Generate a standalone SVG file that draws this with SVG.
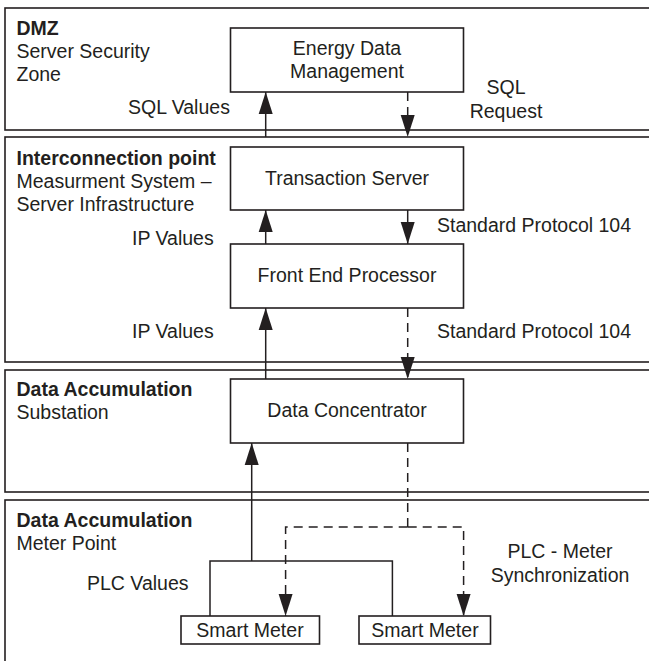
<svg xmlns="http://www.w3.org/2000/svg" width="649" height="661" viewBox="0 0 649 661">
<style>
text{font-family:"Liberation Sans",Arial,sans-serif;font-size:19.5px;fill:#231f20}
.b{font-weight:bold}
.m{text-anchor:middle}
.zone{fill:none;stroke:#231f20;stroke-width:1.6}
.box{fill:#fff;stroke:#231f20;stroke-width:1.6}
.c{fill:none;stroke:#231f20;stroke-width:1.5}
.d{stroke-dasharray:9,6}
</style>
<defs>
<marker id="ah" markerUnits="userSpaceOnUse" markerWidth="23" markerHeight="15" refX="22" refY="7" orient="auto" overflow="visible">
<path d="M0,0 L22,7 L0,14 z" fill="#231f20" stroke="none"/>
</marker>
</defs>
<g id="zone-dmz">
<rect class="zone" x="5" y="8" width="660" height="122"/>
<text class="b" x="16.5" y="35">DMZ</text>
<text x="16.5" y="58">Server Security</text>
<text x="16.5" y="81">Zone</text>
</g>
<g id="zone-interconnection">
<rect class="zone" x="5" y="137" width="660" height="225"/>
<text class="b" x="16.5" y="165">Interconnection point</text>
<text x="16.5" y="188">Measurment System –</text>
<text x="16.5" y="211">Server Infrastructure</text>
</g>
<g id="zone-substation">
<rect class="zone" x="5" y="370" width="660" height="122"/>
<text class="b" x="16.5" y="396">Data Accumulation</text>
<text x="16.5" y="419">Substation</text>
</g>
<g id="zone-meterpoint">
<rect class="zone" x="5" y="500" width="660" height="180"/>
<text class="b" x="16.5" y="527">Data Accumulation</text>
<text x="16.5" y="550">Meter Point</text>
</g>
<g id="connectors">
<path class="c" d="M265.7,137 V92" marker-end="url(#ah)"/>
<path class="c d" d="M407.7,92 V137" marker-end="url(#ah)"/>
<path class="c" d="M265.7,244 V210" marker-end="url(#ah)"/>
<path class="c" d="M407.7,210 V244" marker-end="url(#ah)"/>
<path class="c" d="M265.7,379 V308" marker-end="url(#ah)"/>
<path class="c d" d="M407.7,308 V379" marker-end="url(#ah)"/>
<path class="c" d="M210,616 V561 H392.4 V616"/>
<path class="c" d="M251.7,561 V443" marker-end="url(#ah)"/>
<path class="c d" d="M407.7,443 V527"/>
<path class="c d" d="M407.7,527 H285.6 V616" marker-end="url(#ah)"/>
<path class="c d" d="M407.7,527 H463.6 V616" marker-end="url(#ah)"/>
<text x="128" y="114">SQL Values</text>
<text class="m" x="506" y="94">SQL</text>
<text class="m" x="506" y="118">Request</text>
<text x="132" y="245">IP Values</text>
<text x="437" y="232">Standard Protocol 104</text>
<text x="132" y="338">IP Values</text>
<text x="437" y="338">Standard Protocol 104</text>
<text x="87" y="590">PLC Values</text>
<text class="m" x="560" y="558">PLC - Meter</text>
<text class="m" x="560" y="582">Synchronization</text>
</g>
<g id="energy-data-management">
<rect class="box" x="230.5" y="28" width="233" height="64"/>
<text class="m" x="347" y="55">Energy Data</text>
<text class="m" x="347" y="78">Management</text>
</g>
<g id="transaction-server">
<rect class="box" x="230.5" y="147" width="233" height="63"/>
<text class="m" x="347" y="185">Transaction Server</text>
</g>
<g id="front-end-processor">
<rect class="box" x="230.5" y="244" width="233" height="64"/>
<text class="m" x="347" y="282">Front End Processor</text>
</g>
<g id="data-concentrator">
<rect class="box" x="230.5" y="379" width="233" height="64"/>
<text class="m" x="347" y="417">Data Concentrator</text>
</g>
<g id="smart-meter-1">
<rect class="box" x="181" y="616" width="138.5" height="28"/>
<text class="m" x="250" y="637">Smart Meter</text>
</g>
<g id="smart-meter-2">
<rect class="box" x="359" y="616" width="131.5" height="28"/>
<text class="m" x="425" y="637">Smart Meter</text>
</g>
</svg>
